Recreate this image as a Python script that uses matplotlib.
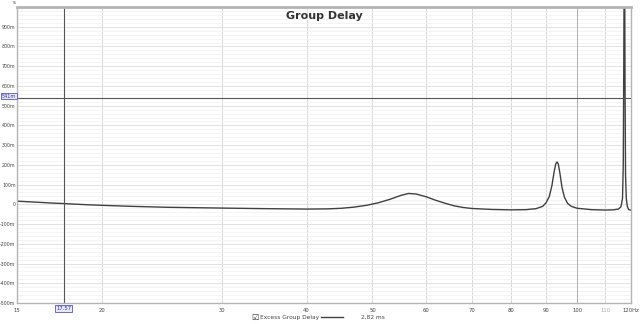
import numpy as np
import matplotlib
matplotlib.use("Agg")
import matplotlib.pyplot as plt
from matplotlib.ticker import FixedLocator, MultipleLocator, NullFormatter

# excess group delay (Hz, seconds)
freq = [15, 16, 17, 17.57, 18, 19, 20, 22, 25, 30, 35, 40, 43, 45, 47, 49, 51, 53,
        55, 56.5, 58, 60, 62, 64, 66, 68, 70, 75, 80, 84, 87, 89, 90, 91, 91.8, 92.5,
        93.0, 93.4, 93.8, 94.3, 95.0, 95.8, 96.8, 98, 100, 105, 110, 113, 115, 116,
        116.6, 116.9, 117.1, 117.25, 117.45, 117.6, 117.8, 118.1, 118.5, 119, 120]
delay = [0.016, 0.011, 0.006, 0.004, 0.002, -0.002, -0.005, -0.010, -0.015, -0.019,
         -0.022, -0.024, -0.023, -0.020, -0.014, -0.005, 0.008, 0.025, 0.045, 0.055,
         0.052, 0.038, 0.020, 0.005, -0.008, -0.016, -0.021, -0.026, -0.028, -0.027,
         -0.022, -0.010, 0.008, 0.040, 0.095, 0.165, 0.205, 0.215, 0.205, 0.160, 0.085,
         0.035, 0.005, -0.010, -0.020, -0.027, -0.029, -0.028, -0.024, -0.012, 0.030,
         0.200, 0.700, 1.200, 1.200, 0.600, 0.150, 0.030, -0.010, -0.026, -0.030]

xticks = [15, 20, 30, 40, 50, 60, 70, 80, 90, 100, 110, 120]
xlabels = ["15", "20", "30", "40", "50", "60", "70", "80", "90", "100", "110", "120Hz"]
yticks = [-0.5, -0.4, -0.3, -0.2, -0.1, 0, 0.1, 0.2, 0.3, 0.4, 0.5, 0.6, 0.7, 0.8, 0.9]
ylabels = ["-500m", "-400m", "-300m", "-200m", "-100m", "0", "100m", "200m", "300m",
           "400m", "500m", "600m", "700m", "800m", "900m"]
cursor_x = 17.57
cursor_y = 0.541

plt.rcParams['font.family'] = ['DejaVu Sans']
fig = plt.figure(figsize=(6.4, 3.24), dpi=100)
ax = fig.add_axes([17 / 640, 1 - 303 / 324, 614 / 640, 296 / 324])
ax.set_xscale('log')
ax.set_xlim(15, 120)
ax.set_ylim(-0.5, 1.0)

ax.xaxis.set_major_locator(FixedLocator(xticks))
ax.xaxis.set_minor_locator(FixedLocator([]))
ax.xaxis.set_minor_formatter(NullFormatter())
ax.set_xticks(xticks)
ax.set_xticklabels(xlabels)
ax.set_yticks(yticks)
ax.set_yticklabels(ylabels)
ax.yaxis.set_minor_locator(MultipleLocator(0.02))
ax.tick_params(axis='both', which='both', length=0, labelsize=3.8, colors='#444444',
               pad=3.5)
ax.tick_params(axis='y', labelsize=3.4, pad=1.0)
ax.get_xticklabels()[10].set_color('#aaaaaa')

ax.grid(True, which='major', axis='x', color='#d8d8d8', lw=0.7)
ax.grid(True, which='major', axis='y', color='#e2e2e2', lw=0.7)
ax.grid(True, which='minor', axis='y', color='#f2f2f2', lw=0.6)
ax.axvline(100, color='#b0b0b0', lw=0.7)
ax.set_axisbelow(True)

for s in ax.spines.values():
    s.set_color('#b4b4b4')
    s.set_linewidth(1.0)
ax.spines['top'].set_linewidth(2.0)

ax.plot(freq, delay, color='#404040', lw=1.0, clip_on=True)

# cursor lines
ax.axvline(cursor_x, color='#555555', lw=0.8)
ax.axhline(cursor_y, color='#555555', lw=0.8)
box = dict(boxstyle='square,pad=0.15', fc='#e8e8f8', ec='#5555bb', lw=0.6)
ax.text(cursor_x, -0.515, "17.57", ha='center', va='top', fontsize=3.8,
        color='#3333aa', bbox=box, transform=ax.transData, clip_on=False)
fig.text(2 / 640, 1 - 96 / 324, "541m", ha='left', va='center', fontsize=3.6,
         color='#3333aa', bbox=box)

ax.text(0.5, 0.985, "Group Delay", transform=ax.transAxes, ha='center', va='top',
        fontsize=8, fontweight='bold', color='#333333')
fig.text(14 / 640, 1 - 3 / 324, "s", ha='center', va='center', fontsize=4,
         color='#444444')

# legend row
fig.text(255 / 640, 1 - 317 / 324, "\u2611", ha='center', va='center', fontsize=6,
         color='#333333')
fig.text(260 / 640, 1 - 317 / 324, "Excess Group Delay", ha='left', va='center',
         fontsize=4.2, color='#444444')
fig.add_artist(plt.Line2D([321 / 640, 343 / 640], [1 - 317 / 324, 1 - 317 / 324],
                          color='#404040', lw=1.0))
fig.text(361 / 640, 1 - 317 / 324, "2,82 ms", ha='left', va='center', fontsize=4.2,
         color='#444444')

fig.savefig("out.png", dpi=100, facecolor='white')
